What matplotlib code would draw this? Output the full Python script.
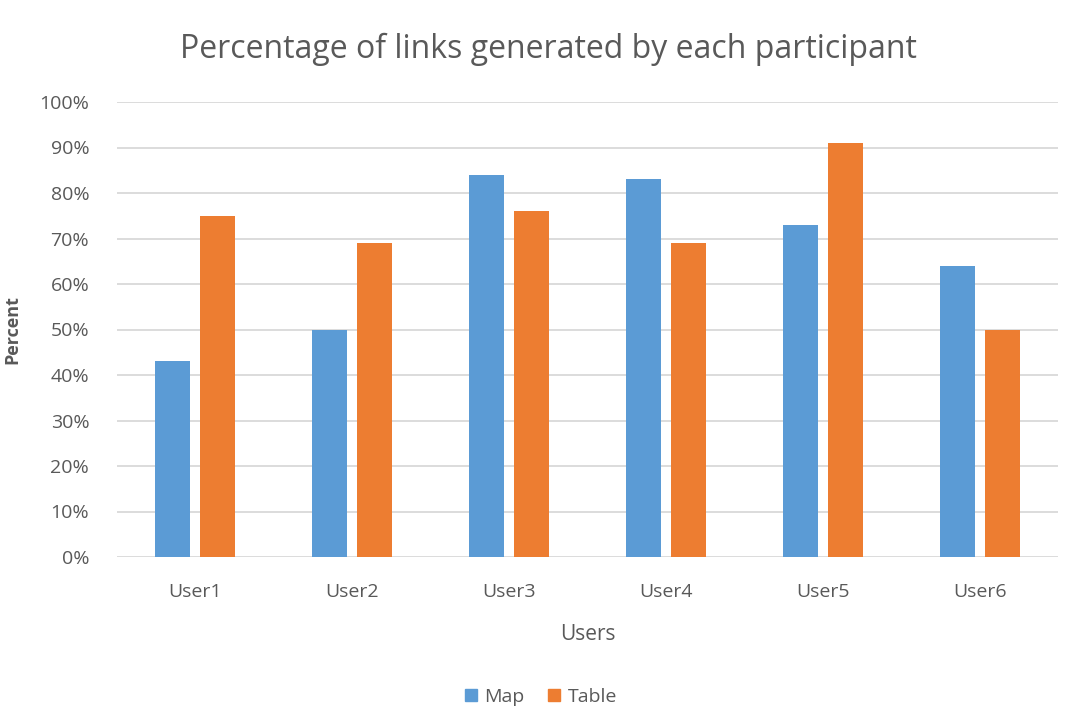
import matplotlib
matplotlib.use("Agg")
import matplotlib.pyplot as plt
import numpy as np
from matplotlib.ticker import PercentFormatter
from matplotlib.patches import Patch

users = ["User1", "User2", "User3", "User4", "User5", "User6"]
map_pct = [43, 50, 84, 83, 73, 64]
table_pct = [75, 69, 76, 69, 91, 50]

BLUE = "#5B9BD5"
ORANGE = "#ED7D31"
TEXT = "#595959"
GRID = "#D9D9D9"

plt.rcParams["font.family"] = ["Open Sans", "DejaVu Sans"]

fig = plt.figure(figsize=(10.82, 7.28), dpi=100)
ax = fig.add_axes([117 / 1082, 171 / 728, 941 / 1082, 455 / 728])

x = np.arange(len(users))
w = 0.223
off = 0.1435
ax.bar(x - off, map_pct, w, color=BLUE, zorder=3)
ax.bar(x + off, table_pct, w, color=ORANGE, zorder=3)

ax.set_xlim(-0.5, len(users) - 0.5)
ax.set_ylim(0, 100)
ax.set_yticks(np.arange(0, 101, 10))
ax.yaxis.set_major_formatter(PercentFormatter(decimals=0))
ax.set_xticks(x)
ax.set_xticklabels(users)
ax.tick_params(axis="both", length=0, labelsize=14, colors=TEXT)
ax.tick_params(axis="y", pad=20)
ax.tick_params(axis="x", pad=19)
ax.grid(axis="y", color=GRID, linewidth=1.3, zorder=0)
for s in ax.spines.values():
    s.set_visible(False)

ax.set_xlabel("Users", fontsize=15, color=TEXT, labelpad=16)
ax.yaxis.set_label_coords(-96 / 941, 0.5)
ax.set_ylabel("Percent", fontsize=13, color=TEXT, fontweight="bold")
fig.text(548 / 1082, 1 - 49 / 728, "Percentage of links generated by each participant",
         ha="center", va="center", fontsize=23, color=TEXT)

handles = [Patch(color=BLUE, label="Map"), Patch(color=ORANGE, label="Table")]
fig.legend(handles=handles, loc="center", bbox_to_anchor=(541 / 1082, 1 - 697 / 728),
           ncol=2, frameon=False, fontsize=14, labelcolor=TEXT,
           handlelength=0.6, handleheight=0.6, handletextpad=0.4, columnspacing=1.2)

fig.savefig("out.png", dpi=100, facecolor="white")
